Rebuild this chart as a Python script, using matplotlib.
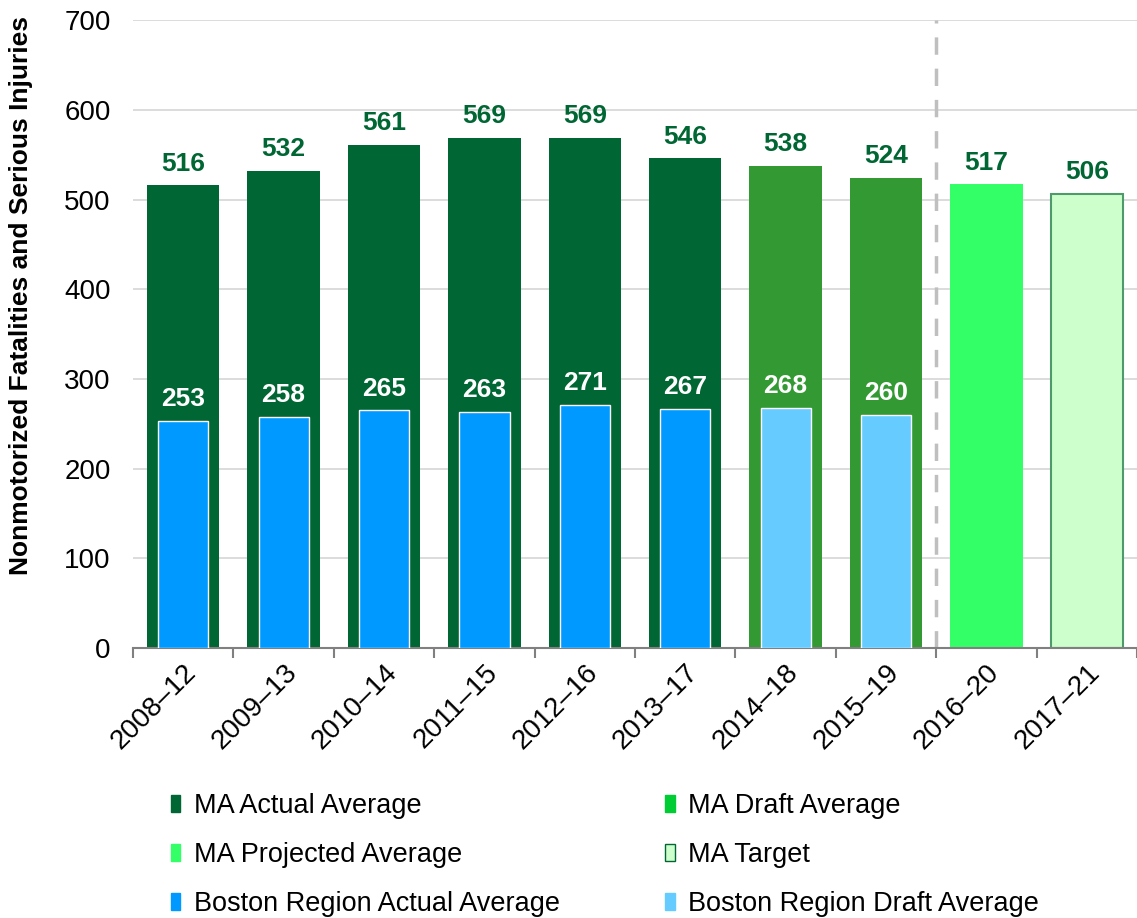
import numpy as np
import matplotlib.pyplot as plt
from matplotlib.patches import Patch

plt.rcParams['font.family'] = ['Liberation Sans', 'DejaVu Sans']

periods = ['2008–12', '2009–13', '2010–14', '2011–15', '2012–16',
           '2013–17', '2014–18', '2015–19', '2016–20', '2017–21']
ma_values = [516, 532, 561, 569, 569, 546, 538, 524, 517, 506]
ma_kind = ['actual'] * 6 + ['draft'] * 2 + ['projected', 'target']
boston_values = [253, 258, 265, 263, 271, 267, 268, 260]
boston_kind = ['actual'] * 6 + ['draft'] * 2

ma_colors = {'actual': '#006633', 'draft': '#339933',
             'projected': '#33FF66', 'target': '#CCFFCC'}
boston_colors = {'actual': '#0099FF', 'draft': '#66CCFF'}

fig = plt.figure(figsize=(11.37, 9.18), dpi=100)
ax = fig.add_axes([0.117, 0.294, 0.883, 0.684])

x = np.arange(len(periods))
for i, (v, k) in enumerate(zip(ma_values, ma_kind)):
    if k == 'target':
        ax.bar(x[i], v, width=0.72, color=ma_colors[k], edgecolor='#4E9A6A',
               linewidth=1.5, zorder=2)
    else:
        ax.bar(x[i], v, width=0.72, color=ma_colors[k], zorder=2)
    ax.annotate(str(v), (x[i], v), xytext=(0, 7), textcoords='offset points',
                ha='center', va='bottom', fontsize=19, fontweight='bold',
                color='#006633')

xb = np.arange(len(boston_values))
for i, (v, k) in enumerate(zip(boston_values, boston_kind)):
    ax.bar(xb[i], v, width=0.5, color=boston_colors[k], edgecolor='white',
           linewidth=1, zorder=3)
    ax.annotate(str(v), (xb[i], v), xytext=(0, 7), textcoords='offset points',
                ha='center', va='bottom', fontsize=19, fontweight='bold',
                color='white', zorder=4)

# separador entre datos reales y proyectados
ax.axvline(7.5, color='#BFBFBF', linestyle=(0, (5, 4)), linewidth=2.5, zorder=1)

ax.set_xlim(-0.5, len(periods) - 0.5)
ax.set_ylim(0, 700)
ax.set_yticks(range(0, 701, 100))
ax.yaxis.grid(True, color='#D9D9D9', linewidth=1.3, zorder=0)
ax.set_axisbelow(True)
ax.set_xticks(x)
ax.set_xticklabels(periods, rotation=45, ha='right', rotation_mode='anchor',
                   fontsize=20)
ax.set_xticks(np.arange(-0.5, len(periods), 1), minor=True)
ax.tick_params(axis='x', which='major', length=0, pad=8)
ax.tick_params(axis='x', which='minor', length=7, color='#808080', width=1.5)
ax.tick_params(axis='y', length=0, labelsize=20, pad=16)
for s in ['top', 'right', 'left']:
    ax.spines[s].set_visible(False)
ax.spines['bottom'].set_color('#808080')
ax.spines['bottom'].set_linewidth(1.5)
ax.set_ylabel('Nonmotorized Fatalities and Serious Injuries', fontsize=19,
              fontweight='bold')
ax.yaxis.set_label_coords(-0.0996, 0.562)

handles = [Patch(color='#006633'), Patch(color='#33FF66'), Patch(color='#0099FF'),
           Patch(color='#00CC33'),
           Patch(facecolor='#CCFFCC', edgecolor='#006633', linewidth=1),
           Patch(color='#66CCFF')]
labels = ['MA Actual Average', 'MA Projected Average',
          'Boston Region Actual Average', 'MA Draft Average', 'MA Target',
          'Boston Region Draft Average']
fig.legend(handles, labels, ncol=2, loc='upper left',
           bbox_to_anchor=(0.150, 0.136), frameon=False, fontsize=19.5,
           handlelength=0.35, handleheight=0.6, handletextpad=0.5,
           labelspacing=0.85, columnspacing=3.9, borderaxespad=0,
           borderpad=0)

plt.savefig('out.png', dpi=100)
